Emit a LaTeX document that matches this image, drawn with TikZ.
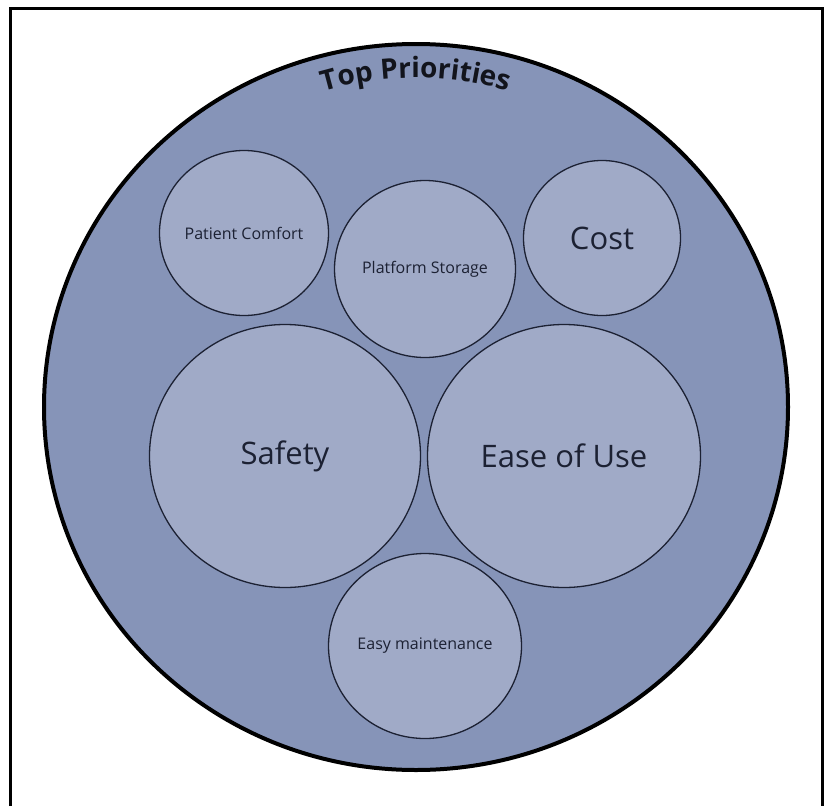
\documentclass[tikz,border=0pt]{standalone}
\usepackage{fontspec}
\newfontfamily\prio{Open Sans}
\usetikzlibrary{positioning,shapes.geometric,decorations.text}
\definecolor{ink}{HTML}{1C2133}
\definecolor{headink}{HTML}{12141C}
\definecolor{outerfill}{HTML}{8694B8}
\definecolor{innerfill}{HTML}{A0AAC7}
\newcommand\lbl[1]{\prio\fontsize{#1}{#1}\selectfont}
\tikzset{
  frame/.style={line width=3pt},
  whole/.style={ellipse,draw=black,line width=4pt,fill=outerfill,inner sep=0pt},
  prio/.style={ellipse,draw=ink,line width=1.3pt,fill=innerfill,inner sep=0pt,text=ink},
}
\begin{document}
\begin{tikzpicture}[x=1pt,y=-1pt]
  \useasboundingbox[fill=white] (0,0) rectangle (830,806);
  \draw[frame] (10,806) -- (10,8) -- (822,8) -- (822,806);
  \node[whole,minimum width=744,minimum height=726] (all) at (416,407) {};
  % heading bent along the rim
  \path[decorate,decoration={text along path,text align=center,
      text={|\lbl{28}\bfseries\color{headink}|Top Priorities}}]
    (all.center) ++(160:329pt) arc[start angle=160,end angle=20,radius=329pt];
  \foreach \nm/\cx/\cy/\rx/\ry/\fs/\txt in {
      comfort/244/233/85/83/16/Patient Comfort,
      storage/425/269/91/89/16/Platform Storage,
      cost/602/238/79/78/31/Cost,
      safety/285/456/136/132/31/Safety,
      ease/564/456/137/132/31/Ease of Use,
      maint/425/646/97/93/16/Easy maintenance}{
    \node[prio,minimum width=2*\rx-1,minimum height=2*\ry-1,font=\lbl{\fs}]
      (\nm) at (\cx,\cy) {\txt};
  }
\end{tikzpicture}
\end{document}
